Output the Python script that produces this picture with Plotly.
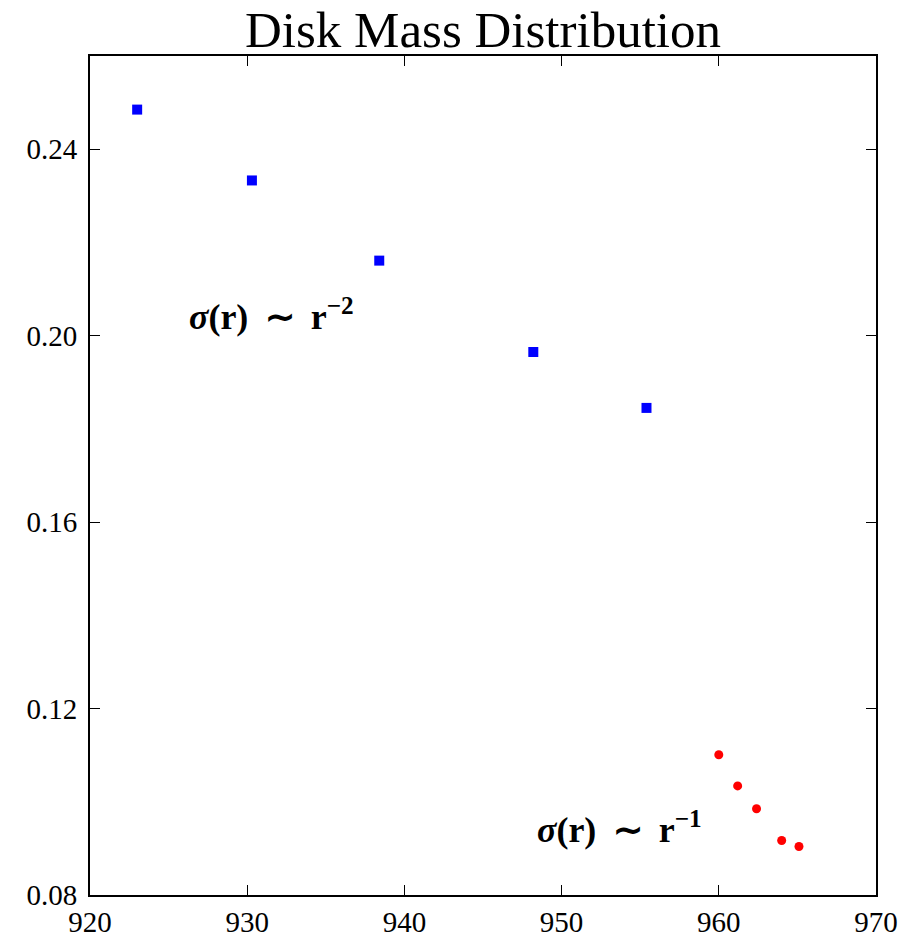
import plotly.graph_objects as go

# Data
outer_r = [923.0, 930.3, 938.4, 948.2, 955.4]
outer_sigma = [0.2485, 0.2333, 0.2161, 0.1965, 0.1845]
inner_r = [960.0, 961.2, 962.4, 964.0, 965.1]
inner_sigma = [0.1101, 0.1034, 0.0985, 0.0917, 0.0904]

x_ticks = [920, 930, 940, 950, 960, 970]
y_ticks = [0.08, 0.12, 0.16, 0.20, 0.24]
y_tick_labels = ["0.08", "0.12", "0.16", "0.20", "0.24"]

FONT = "Liberation Serif"

fig = go.Figure()
fig.add_trace(go.Scatter(
    x=outer_r, y=outer_sigma, mode="markers",
    marker=dict(symbol="square", size=10, color="#0000ff", line=dict(width=0)),
    showlegend=False,
))
fig.add_trace(go.Scatter(
    x=inner_r, y=inner_sigma, mode="markers",
    marker=dict(symbol="circle", size=9, color="#ff0000", line=dict(width=0)),
    showlegend=False,
))

axis_common = dict(
    showgrid=False, zeroline=False, automargin=False,
    showline=True, linecolor="black", linewidth=2, mirror="ticks",
    ticks="inside", ticklen=10, tickwidth=1, tickcolor="black",
    tickfont=dict(family=FONT, size=29, color="black"),
)
fig.update_xaxes(range=[920, 970], tickvals=x_ticks,
                 ticktext=[str(v) for v in x_ticks], ticklabelstandoff=0,
                 **axis_common)
fig.update_yaxes(range=[0.08, 0.26], tickvals=y_ticks, ticktext=y_tick_labels,
                 ticklabelstandoff=5, **axis_common)

sp = "\u2009"
fig.add_annotation(x=926.2, y=0.2045, xref="x", yref="y",
                   text=f"<b><i>σ</i>(r){sp} ∼ {sp}r<sup>−2</sup></b>",
                   showarrow=False, xanchor="left", yanchor="middle",
                   font=dict(family=FONT, size=36, color="black"))
fig.add_annotation(x=948.3, y=0.0945, xref="x", yref="y",
                   text=f"<b><i>σ</i>(r){sp} ∼ {sp}r<sup>−1</sup></b>",
                   showarrow=False, xanchor="left", yanchor="middle",
                   font=dict(family=FONT, size=36, color="black"))

fig.update_layout(
    width=916, height=938,
    margin=dict(l=90, r=40, t=56, b=43),
    paper_bgcolor="white", plot_bgcolor="white",
    title=dict(text="Disk Mass Distribution", x=0.5, xref="paper",
               y=1 - 29 / 938, yref="container", yanchor="middle",
               font=dict(family=FONT, size=51, color="black")),
)

fig.write_html("out.html")
